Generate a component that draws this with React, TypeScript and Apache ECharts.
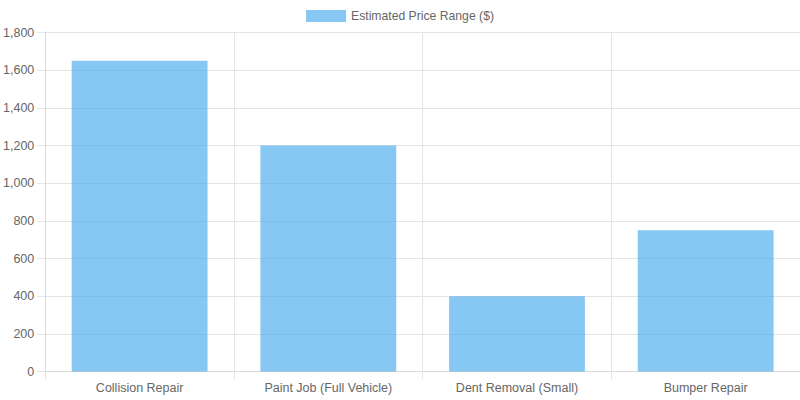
import React, { useEffect, useRef } from "react";
import * as echarts from "echarts";

const categories = ["Collision Repair", "Paint Job (Full Vehicle)", "Dent Removal (Small)", "Bumper Repair"];
const prices = [1650, 1200, 400, 750];
const seriesName = "Estimated Price Range ($)";

export default function App() {
  const ref = useRef<HTMLDivElement>(null);
  useEffect(() => {
    const chart = echarts.init(ref.current!, null, { renderer: "svg" });
    const font = "'Liberation Sans', Arial, Helvetica, sans-serif";
    chart.setOption({
      animation: false,
      textStyle: { fontFamily: font },
      legend: {
        top: 5,
        left: "center",
        itemWidth: 40,
        itemHeight: 12,
        itemGap: 10,
        textStyle: { color: "#666", fontSize: 12.2, fontFamily: font },
        data: [{ name: seriesName, icon: "rect" }],
      },
      grid: { left: 45, right: 0, top: 32.5, bottom: 28.5, containLabel: false },
      xAxis: {
        type: "category",
        data: categories,
        boundaryGap: true,
        axisLine: { show: true, lineStyle: { color: "#d9d9d9" } },
        axisTick: { show: true, length: 8, alignWithLabel: false, lineStyle: { color: "#e5e5e5" } },
        splitLine: { show: true, lineStyle: { color: "#e5e5e5" } },
        axisLabel: { color: "#666", fontSize: 12.5, margin: 10, fontFamily: font, interval: 0 },
      },
      yAxis: {
        type: "value",
        min: 0,
        max: 1800,
        interval: 200,
        axisLine: { show: true, lineStyle: { color: "#d9d9d9" } },
        axisTick: { show: true, length: 8, lineStyle: { color: "#e5e5e5" } },
        splitLine: { show: true, lineStyle: { color: "#e5e5e5" } },
        axisLabel: {
          color: "#666",
          fontSize: 12.5,
          margin: 11,
          fontFamily: font,
          formatter: (v: number) => v.toLocaleString("en-US"),
        },
      },
      series: [
        {
          name: seriesName,
          type: "bar",
          data: prices,
          barWidth: "72%",
          itemStyle: { color: "rgba(54,162,235,0.6)", borderColor: "rgba(54,162,235,0.6)", borderWidth: 0 },
        },
      ],
    });
    return () => chart.dispose();
  }, []);
  return <div ref={ref} style={{ width: 800, height: 400, position: "absolute", left: 0, top: 0 }} />;
}
